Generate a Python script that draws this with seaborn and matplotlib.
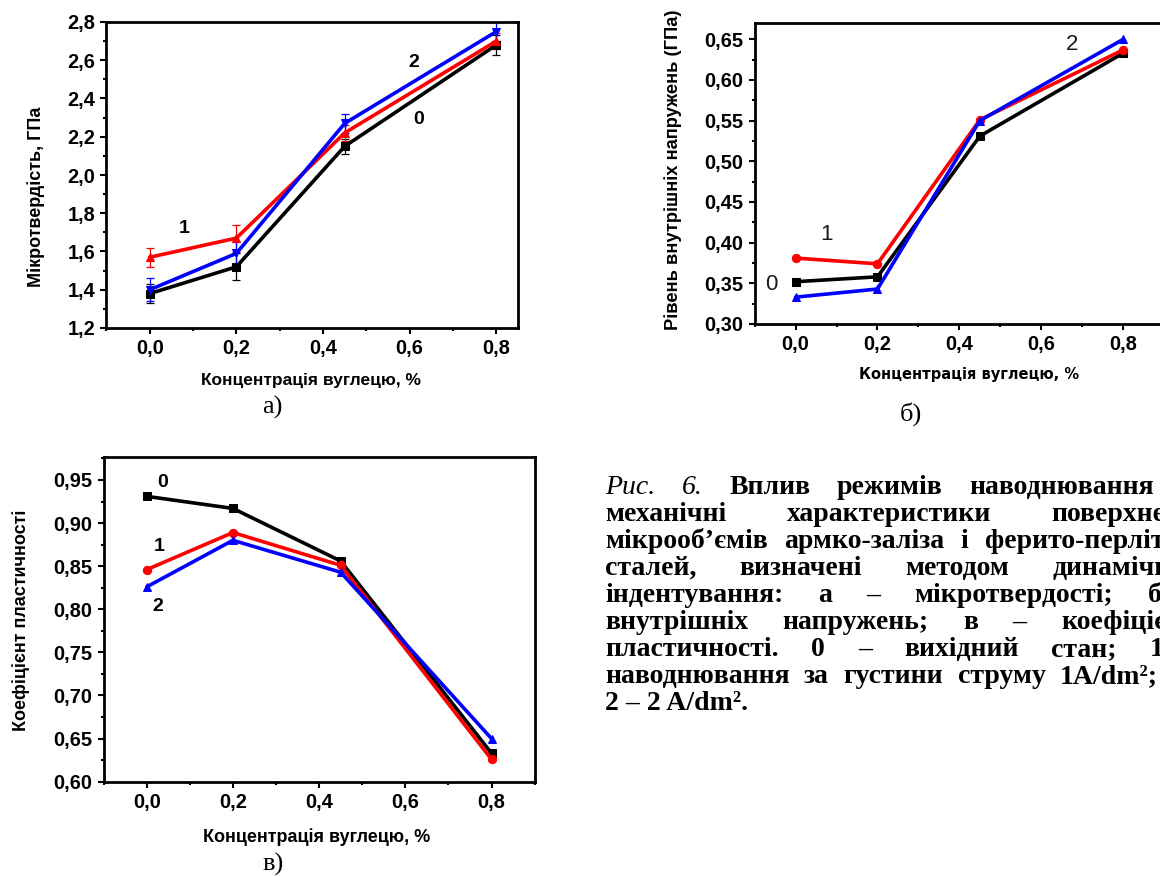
import matplotlib
matplotlib.use("Agg")
import matplotlib.pyplot as plt
import seaborn as sns
from matplotlib.ticker import MultipleLocator, FuncFormatter

# ---------------- data ----------------
carbon = [0.0, 0.2, 0.45, 0.8]

hard_0 = [1.38, 1.52, 2.15, 2.68]
hard_1 = [1.57, 1.67, 2.22, 2.70]
hard_2 = [1.40, 1.59, 2.27, 2.75]
hard_err_0 = [0.05, 0.07, 0.04, 0.05]
hard_err_1 = [0.05, 0.07, 0.04, 0.04]
hard_err_2 = [0.06, 0.06, 0.05, 0.05]

stress_0 = [0.352, 0.358, 0.531, 0.633]
stress_1 = [0.381, 0.374, 0.551, 0.637]
stress_2 = [0.333, 0.343, 0.550, 0.650]

plast_0 = [0.931, 0.917, 0.856, 0.633]
plast_1 = [0.846, 0.889, 0.851, 0.626]
plast_2 = [0.826, 0.880, 0.843, 0.650]

series_colors = ["#000000", "#ff0000", "#0000ff"]
series_names = ["0", "1", "2"]

x_label = "Концентрація вуглецю, %"
y_label_a = "Мікротвердість, ГПа"
y_label_b = "Рівень внутрішніх напружень (ГПа)"
y_label_c = "Коефіцієнт пластичності"

caption_lines = [
    [("Рис.", "italic"), ("6.", "italic"), ("Вплив", "bold"), ("режимів", "bold"),
     ("наводнювання", "bold"), ("на", "bold")],
    [("механічні", "bold"), ("характеристики", "bold"), ("поверхневих", "bold")],
    [("мікрооб’ємів", "bold"), ("армко-заліза", "bold"), ("і", "bold"),
     ("ферито-перлітних", "bold")],
    [("сталей,", "bold"), ("визначені", "bold"), ("методом", "bold"),
     ("динамічного", "bold")],
    [("індентування:", "bold"), ("а", "bold"), ("–", "bold"),
     ("мікротвердості;", "bold"), ("б", "bold"), ("–", "bold")],
    [("внутрішніх", "bold"), ("напружень;", "bold"), ("в", "bold"), ("–", "bold"),
     ("коефіцієнта", "bold")],
    [("пластичності.", "bold"), ("0", "bold"), ("–", "bold"), ("вихідний", "bold"),
     ("стан;", "bold"), ("1", "bold"), ("–", "bold")],
    [("наводнювання", "bold"), ("за", "bold"), ("густини", "bold"),
     ("струму", "bold"), ("1A/dm²;", "bold")],
    [("2 – 2 A/dm².", "bold")],
]
# right edge (px) each caption line is justified to (None = left aligned)
caption_right = [1210, 1210, 1210, 1210, 1210, 1210, 1210, 1158, None]

# ---------------- style ----------------
sns.set_style("white")
plt.rcParams["font.family"] = ["Liberation Sans", "DejaVu Sans"]
plt.rcParams["axes.linewidth"] = 2.0

W, H = 1160, 877
fig = plt.figure(figsize=(W / 100, H / 100), dpi=100)


def add_ax(l, r, t, b):
    return fig.add_axes([l / W, 1 - b / H, (r - l) / W, (b - t) / H])


def comma(fmt):
    return FuncFormatter(lambda v, p: (fmt % v).replace(".", ","))


def style_axes(ax, xlim, ylim, ymaj, ymin, yfmt):
    ax.set_xlim(*xlim)
    ax.set_ylim(*ylim)
    ax.xaxis.set_major_locator(MultipleLocator(0.2))
    ax.xaxis.set_minor_locator(MultipleLocator(0.1))
    ax.yaxis.set_major_locator(MultipleLocator(ymaj))
    ax.yaxis.set_minor_locator(MultipleLocator(ymin))
    ax.xaxis.set_major_formatter(comma("%.1f"))
    ax.yaxis.set_major_formatter(comma(yfmt))
    ax.tick_params(which="both", direction="out", top=False, right=False,
                   left=True, bottom=True, width=1.5, colors="black")
    ax.tick_params(which="major", length=4.5, pad=3.5, labelsize=14.4)
    ax.tick_params(which="minor", length=2.5)
    for lab in ax.get_xticklabels() + ax.get_yticklabels():
        lab.set_fontweight("bold")
    for s in ax.spines.values():
        s.set_color("black")
        s.set_linewidth(2.0)
    ax.grid(False)


def place_label(ax, axis, text, px, py, size, family=None):
    kw = dict(fontsize=size, fontweight="bold", color="black")
    if family:
        kw["family"] = family
    if axis == "x":
        ax.set_xlabel(text, **kw)
        ax.xaxis.label.set_va("center")
        ax.xaxis.set_label_coords(px / W, 1 - py / H, transform=fig.transFigure)
    else:
        ax.set_ylabel(text, **kw)
        ax.yaxis.label.set_va("center")
        ax.yaxis.set_label_coords(px / W, 1 - py / H, transform=fig.transFigure)


def panel_letter(text, px, py):
    fig.text(px / W, 1 - py / H, text, ha="center", va="center",
             fontsize=19, family=["Liberation Serif"], color="black")


# ---------------- panel а ----------------
ax_a = add_ax(106.4, 518, 22, 328)
hard = [hard_0, hard_1, hard_2]
hard_err = [hard_err_0, hard_err_1, hard_err_2]
markers_a = ["s", "^", "v"]
for vals, errs, col, mk in zip(hard, hard_err, series_colors, markers_a):
    ax_a.errorbar(carbon, vals, yerr=errs, fmt="none", ecolor=col,
                  elinewidth=0.9, capsize=3, capthick=0.9, zorder=2)
    sns.lineplot(x=carbon, y=vals, ax=ax_a, color=col, marker=mk, markersize=6,
                 markeredgecolor=col, linewidth=2.6, errorbar=None, zorder=3)
style_axes(ax_a, (-0.1, 0.85), (1.2, 2.8), 0.2, 0.1, "%.1f")
place_label(ax_a, "y", y_label_a, 36, 197, 13)
place_label(ax_a, "x", x_label, 311, 380, 12.5)
for name, tx, ty in zip(series_names, [0.62, 0.08, 0.61], [2.29, 1.72, 2.59]):
    ax_a.text(tx, ty, name, fontsize=14, fontweight="bold", ha="center",
              va="center", color="black")
panel_letter("а)", 272, 407)

# ---------------- panel б ----------------
ax_b = add_ax(754.6, 1164.2, 23, 324)
stress = [stress_0, stress_1, stress_2]
markers_b = ["s", "o", "^"]
for vals, col, mk in zip(stress, series_colors, markers_b):
    sns.lineplot(x=carbon, y=vals, ax=ax_b, color=col, marker=mk, markersize=6,
                 markeredgecolor=col, linewidth=2.6, errorbar=None)
style_axes(ax_b, (-0.1, 0.9), (0.30, 0.67), 0.05, 0.025, "%.2f")
place_label(ax_b, "y", y_label_b, 673, 170, 13.2)
place_label(ax_b, "x", x_label, 969, 375, 10.5, family=["DejaVu Sans"])
for name, tx, ty in zip(series_names, [-0.058, 0.075, 0.675], [0.349, 0.41, 0.643]):
    ax_b.text(tx, ty, name, fontsize=16, ha="center", va="center", color="#1a1a1a")
panel_letter("б)", 911, 414)

# ---------------- panel в ----------------
ax_c = add_ax(103.6, 534.6, 456.7, 781.7)
plast = [plast_0, plast_1, plast_2]
for vals, col, mk in zip(plast, series_colors, markers_b):
    sns.lineplot(x=carbon, y=vals, ax=ax_c, color=col, marker=mk, markersize=6,
                 markeredgecolor=col, linewidth=2.6, errorbar=None)
style_axes(ax_c, (-0.1, 0.9), (0.60, 0.977), 0.05, 0.025, "%.2f")
place_label(ax_c, "y", y_label_c, 21, 620, 13)
place_label(ax_c, "x", x_label, 317, 837, 13)
for name, tx, ty in zip(series_names, [0.038, 0.029, 0.026], [0.947, 0.873, 0.803]):
    ax_c.text(tx, ty, name, fontsize=14, fontweight="bold", ha="center",
              va="center", color="black")
panel_letter("в)", 273, 864)

# ---------------- caption (justified) ----------------
renderer = fig.canvas.get_renderer()
x0 = 605
for k, (words, right) in enumerate(zip(caption_lines, caption_right)):
    base = 494 + 27 * k
    texts = []
    for word, kind in words:
        t = fig.text(0, 1 - base / H, word, ha="left", va="baseline",
                     fontsize=20, family=["Liberation Serif"],
                     fontweight="bold" if kind == "bold" else "normal",
                     fontstyle="italic" if kind == "italic" else "normal",
                     color="black")
        texts.append(t)
    widths = [t.get_window_extent(renderer).width for t in texts]
    if right is None or len(texts) == 1:
        gap = 7
    else:
        gap = (right - x0 - sum(widths)) / (len(texts) - 1)
    x = x0
    for t, w in zip(texts, widths):
        t.set_x(x / W)
        x += w + gap

fig.savefig("out.png", dpi=100)
